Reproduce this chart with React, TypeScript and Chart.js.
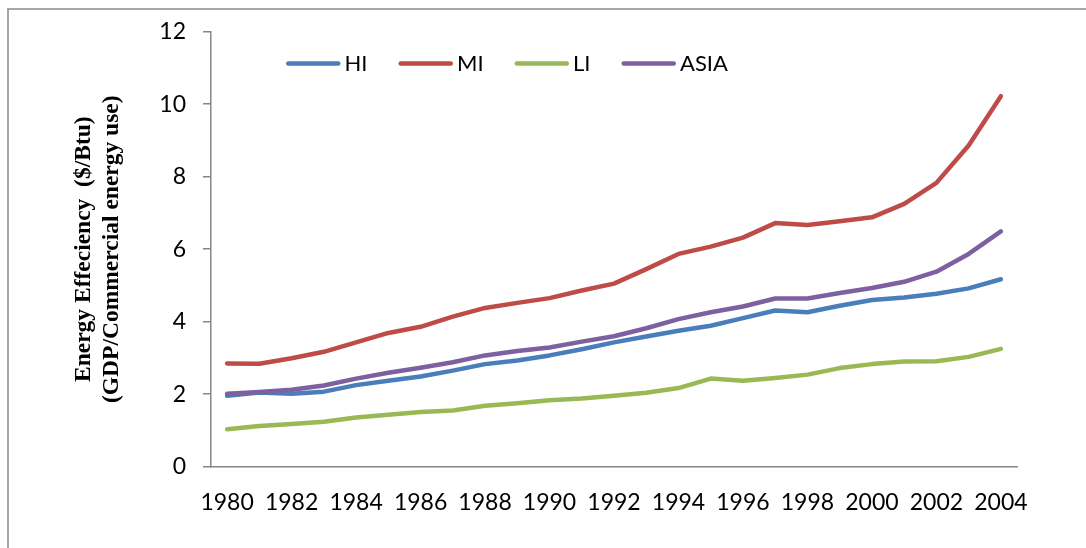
import React, { useEffect, useRef } from 'react';
import { Chart, registerables } from 'chart.js';

Chart.register(...registerables);

const years = [
  '1980', '1981', '1982', '1983', '1984', '1985', '1986', '1987', '1988', '1989',
  '1990', '1991', '1992', '1993', '1994', '1995', '1996', '1997', '1998', '1999',
  '2000', '2001', '2002', '2003', '2004',
];

const hiValues = [
  1.96, 2.05, 2.01, 2.07, 2.25, 2.37, 2.49, 2.65, 2.83, 2.93,
  3.07, 3.24, 3.43, 3.59, 3.75, 3.89, 4.10, 4.31, 4.26, 4.44,
  4.60, 4.67, 4.77, 4.92, 5.17,
];

const miValues = [
  2.85, 2.84, 2.99, 3.17, 3.43, 3.69, 3.86, 4.14, 4.38, 4.52,
  4.65, 4.86, 5.05, 5.45, 5.87, 6.07, 6.32, 6.72, 6.67, 6.77,
  6.88, 7.25, 7.83, 8.86, 10.22,
];

const liValues = [
  1.03, 1.12, 1.18, 1.24, 1.36, 1.43, 1.51, 1.55, 1.68, 1.75,
  1.83, 1.88, 1.96, 2.04, 2.17, 2.43, 2.37, 2.45, 2.54, 2.72,
  2.83, 2.90, 2.91, 3.03, 3.25,
];

const asiaValues = [
  2.01, 2.06, 2.12, 2.24, 2.43, 2.59, 2.73, 2.88, 3.07, 3.19,
  3.29, 3.45, 3.60, 3.82, 4.07, 4.26, 4.42, 4.64, 4.64, 4.79,
  4.93, 5.10, 5.38, 5.87, 6.49,
];

const seriesLabels = ['HI', 'MI', 'LI', 'ASIA'];
const seriesColors = ['#4A7EBB', '#BE4B48', '#98B954', '#7D60A0'];
const seriesValues = [hiValues, miValues, liValues, asiaValues];

const yMin = 0;
const yMax = 12;
const yStep = 2;
const yTitle = ['Energy Effeciency  ($/Btu)', '(GDP/Commercial energy use)'];

const AXIS_GRAY = '#868686';
const TICK_FONT = 'Lato, "Open Sans", sans-serif';

const insideLegend = {
  id: 'insideLegend',
  afterDraw(chart: any) {
    const { ctx, chartArea } = chart;
    ctx.save();
    ctx.font = `22px ${TICK_FONT}`;
    ctx.textBaseline = 'middle';
    ctx.textAlign = 'left';
    let x = chartArea.left + 75;
    const y = chartArea.top + 31.8;
    const lineLen = 54.5;
    chart.data.datasets.forEach((ds: any) => {
      const lw = ds.borderWidth;
      ctx.strokeStyle = ds.borderColor;
      ctx.lineWidth = lw;
      ctx.lineCap = 'round';
      ctx.beginPath();
      ctx.moveTo(x + lw / 2, y);
      ctx.lineTo(x + lineLen - lw / 2, y);
      ctx.stroke();
      ctx.fillStyle = '#000000';
      ctx.fillText(ds.label, x + lineLen + 4, y);
      x += lineLen + 4 + ctx.measureText(ds.label).width + 31;
    });
    ctx.restore();
  },
};

export default function App() {
  const canvasRef = useRef<HTMLCanvasElement | null>(null);

  useEffect(() => {
    if (!canvasRef.current) return;
    const chart = new Chart(canvasRef.current, {
      type: 'line',
      data: {
        labels: years,
        datasets: seriesLabels.map((label, i) => ({
          label,
          data: seriesValues[i],
          borderColor: seriesColors[i],
          backgroundColor: seriesColors[i],
          borderWidth: 4.5,
          borderCapStyle: 'round',
          borderJoinStyle: 'round',
          pointRadius: 0,
          pointHoverRadius: 0,
          tension: 0,
          fill: false,
          order: seriesLabels.length - i,
        })),
      },
      options: {
        animation: false,
        responsive: true,
        maintainAspectRatio: false,
        events: [],
        layout: {
          padding: { left: 66, right: 69, top: 31.7, bottom: 31.3 },
        },
        plugins: {
          legend: { display: false },
          tooltip: { enabled: false },
          title: { display: false },
        },
        scales: {
          x: {
            type: 'category',
            offset: true,
            grid: { display: false, drawTicks: false },
            border: { display: true, color: AXIS_GRAY, width: 1.5 },
            ticks: {
              autoSkip: false,
              maxRotation: 0,
              minRotation: 0,
              padding: 22,
              color: '#000000',
              font: { family: TICK_FONT, size: 23 },
              callback: (_v: any, i: number) => (i % 2 === 0 ? years[i] : ''),
            },
            afterFit: (scale: any) => {
              scale.height = 50;
            },
          },
          y: {
            min: yMin,
            max: yMax,
            grid: {
              display: true,
              drawOnChartArea: false,
              drawTicks: true,
              tickLength: 8,
              color: AXIS_GRAY,
              lineWidth: 1.5,
            },
            border: { display: true, color: AXIS_GRAY, width: 1.5 },
            ticks: {
              stepSize: yStep,
              padding: 17,
              color: '#000000',
              font: { family: TICK_FONT, size: 23 },
            },
            title: {
              display: true,
              text: yTitle,
              color: '#000000',
              font: { family: '"Liberation Serif", "Times New Roman", serif', size: 23.5, weight: 'bold' },
              padding: { top: 4, bottom: 4 },
            },
            afterFit: (scale: any) => {
              scale.width = 145;
            },
          },
        },
      },
      plugins: [insideLegend],
    } as any);
    return () => {
      chart.destroy();
    };
  }, []);

  return (
    <>
      <div
        style={{
          position: 'fixed',
          left: 7,
          top: 8,
          right: 0,
          bottom: 0,
          borderLeft: '2px solid #a6a6a6',
          borderTop: '2px solid #a6a6a6',
        }}
      />
      <div style={{ position: 'fixed', left: 0, top: 0, width: 1086, height: 548 }}>
        <canvas ref={canvasRef} />
      </div>
    </>
  );
}
